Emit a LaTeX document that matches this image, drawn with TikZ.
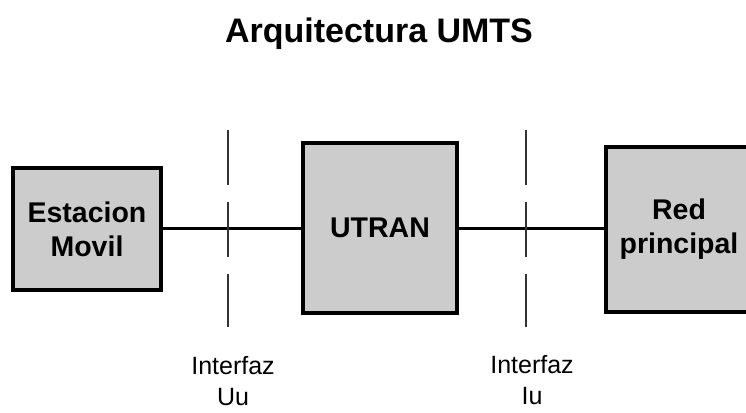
\documentclass[tikz,border=0pt]{standalone}
\usepackage{fontspec}
\setmainfont{Liberation Sans}
\usetikzlibrary{positioning}

\begin{document}
\begin{tikzpicture}[x=1pt, y=-1pt,
                    bloque/.style={draw, line width=3.2pt, fill=gray!40, align=center, inner sep=0pt,
                                   font=\fontsize{28.5}{34}\selectfont\bfseries},
                    enlace/.style={line width=3pt},
                    corte/.style={line width=1.4pt, black!80, dash pattern=on 55pt off 17pt},
                    etiqueta/.style={align=center, font=\fontsize{25}{31}\selectfont}]
                    \useasboundingbox (0,0) rectangle (746,412);
                    \clip (0,0) rectangle (746,412);

                    % Title
                    \node (titulo) at (379,34) {\fontsize{34}{40}\selectfont\bfseries Arquitectura UMTS};

                    % Nodes
                    \node[bloque, minimum width=148pt, minimum height=122pt] (movil) at (87,229) {Estacion\\Movil};
                    \node[bloque, minimum width=154pt, minimum height=170pt] (utran) at (380,228) {UTRAN};
                    \node[bloque, minimum width=146pt, minimum height=165pt] (red) at (679,229.5) {Red\\principal};

                    % Interfaces
                    \coordinate (uu arriba) at (228,130);
                    \coordinate (uu abajo) at (228,327);
                    \coordinate (iu arriba) at (526,130);
                    \coordinate (iu abajo) at (526,327);
                    \node[etiqueta] (uu) at (233,381) {Interfaz\\Uu};
                    \node[etiqueta] (iu) at (532,380) {Interfaz\\Iu};

                    % Edges
                    % movil to utran
                    \draw[enlace] (movil.east |- 0,228) -- (utran.west |- 0,228);

                    % utran to red
                    \draw[enlace] (utran.east |- 0,228) -- (red.west |- 0,228);

                    % cut lines
                    \draw[corte] (uu arriba) -- (uu abajo);
                    \draw[corte] (iu arriba) -- (iu abajo);

                \end{tikzpicture}
\end{document}
